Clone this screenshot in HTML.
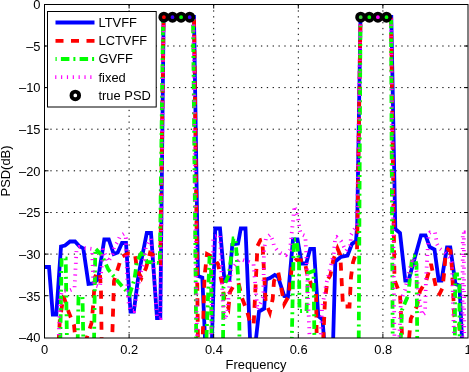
<!DOCTYPE html>
<html><head><meta charset="utf-8"><title>PSD plot</title>
<style>html,body{margin:0;padding:0;background:#fff;overflow:hidden}svg{display:block}text{font-family:"Liberation Sans",sans-serif;font-size:12.9px;fill:#000}</style>
</head><body>
<svg width="469" height="372" viewBox="0 0 469 372">
<rect x="0" y="0" width="469" height="372" fill="#fff"/>
<defs><clipPath id="ax"><rect x="44.5" y="4.5" width="423.5" height="333.5"/></clipPath></defs>
<g stroke="#000" stroke-width="1" stroke-dasharray="1.3 4.55" fill="none">
<line x1="129.1" y1="4.5" x2="129.1" y2="338.0"/>
<line x1="213.7" y1="4.5" x2="213.7" y2="338.0"/>
<line x1="298.3" y1="4.5" x2="298.3" y2="338.0"/>
<line x1="382.9" y1="4.5" x2="382.9" y2="338.0"/>
<line x1="44.5" y1="46.0" x2="468.0" y2="46.0"/>
<line x1="44.5" y1="87.6" x2="468.0" y2="87.6"/>
<line x1="44.5" y1="129.2" x2="468.0" y2="129.2"/>
<line x1="44.5" y1="170.8" x2="468.0" y2="170.8"/>
<line x1="44.5" y1="212.5" x2="468.0" y2="212.5"/>
<line x1="44.5" y1="254.1" x2="468.0" y2="254.1"/>
<line x1="44.5" y1="295.7" x2="468.0" y2="295.7"/>
</g>
<g clip-path="url(#ax)" fill="none" stroke-width="3.8" stroke-linejoin="miter">
<polyline stroke="#0000ff" points="44.5,267.0 49.0,267.0 52.8,314.5 56.3,314.5 61.0,246.5 65.0,245.5 70.0,241.5 75.0,241.5 79.2,246.0 83.3,248.5 88.5,284.0 93.0,283.5 98.0,279.5 104.3,239.5 108.8,239.5 113.7,254.0 117.7,252.5 122.0,243.0 126.0,243.0 130.5,311.5 133.8,311.5 138.5,275.0 146.8,233.0 151.0,233.0 157.0,318.0 160.3,318.0 163.6,17.0 194.0,17.0 198.0,276.0 202.3,277.5 206.2,365.0 211.2,365.0 215.2,228.5 220.0,228.5 224.5,281.0 229.4,280.0 232.3,244.5 238.0,243.5 240.8,228.5 245.5,228.5 250.3,345.0 255.3,345.0 259.0,311.5 264.2,308.5 266.0,279.5 270.0,278.0 274.7,275.0 278.0,277.0 284.3,296.0 288.0,296.5 293.0,239.5 297.5,239.5 301.7,263.5 306.2,263.5 310.2,248.8 314.0,248.8 318.3,316.0 322.5,319.5 324.5,345.0 333.0,345.0 335.3,261.5 341.0,256.8 347.5,255.5 352.0,243.8 356.0,241.2 357.2,225.0 360.5,17.0 391.3,17.0 395.3,229.0 400.0,233.0 405.3,280.5 408.5,280.5 421.0,235.3 425.5,235.3 429.7,247.0 434.5,249.5 438.7,280.5 441.5,280.5 447.0,247.5 450.3,247.5 455.5,284.0 459.5,285.5 462.3,345.0"/>
<polyline stroke="#ff0000" stroke-dasharray="8 7.5" points="45.0,345.0 58.5,345.0 59.8,320.0 63.5,296.0 69.0,313.0 74.0,325.0 76.0,345.0 84.5,345.0 91.5,323.0 93.3,304.0 95.0,277.0 97.5,272.0 100.0,274.0 101.0,292.0 101.7,345.0 112.0,345.0 114.0,281.0 121.5,257.0 128.0,253.5 135.0,254.0 137.0,270.0 141.5,278.0 146.0,268.0 150.0,253.0 155.0,256.0 160.3,262.0 163.6,17.0 194.0,17.0 198.0,345.0 202.5,345.0 204.5,277.0 207.0,254.0 214.0,258.0 218.0,264.0 222.0,283.0 224.5,300.0 228.5,308.0 230.0,292.0 234.0,285.0 238.5,283.0 242.0,298.0 247.0,311.0 250.5,324.0 253.7,324.0 257.5,246.0 260.5,240.0 262.3,239.5 265.7,303.0 269.8,312.5 272.7,299.0 274.0,281.0 278.3,272.5 284.3,304.0 288.5,296.5 292.2,264.0 296.0,260.0 304.5,260.5 307.0,273.0 312.0,286.5 316.0,289.0 316.8,345.0 323.0,345.0 325.0,300.0 327.5,280.0 330.4,275.0 333.3,260.0 337.5,248.5 340.3,255.0 343.0,306.5 349.5,306.5 351.0,277.0 353.0,262.5 357.0,250.0 357.5,225.0 360.5,17.0 391.0,17.0 394.5,280.0 400.0,294.0 402.5,345.0 408.5,345.0 410.8,318.7 417.0,306.0 420.0,291.0 426.0,281.5 431.0,264.0 437.0,292.0 439.5,294.0 442.5,288.0 444.3,271.7 445.5,255.0 448.0,249.5 450.5,251.0 452.0,268.8 454.3,316.0 459.2,324.0 461.0,345.0"/>
<polyline stroke="#00ff00" stroke-dasharray="8.5 4 2 4.2" points="45.0,345.0 60.2,345.0 61.6,258.0 65.7,258.5 67.0,345.0 77.6,345.0 78.5,297.0 82.5,297.0 83.4,345.0 94.0,345.0 95.3,248.5 101.7,255.0 108.3,269.5 117.5,281.0 129.6,294.5 134.5,279.0 137.0,261.0 142.5,251.0 147.0,262.0 159.8,263.0 163.1,17.0 193.0,17.0 196.3,345.0 206.2,345.0 209.5,258.0 211.0,258.0 211.6,345.0 223.0,345.0 223.5,287.0 229.0,274.0 233.5,238.5 235.5,238.5 239.0,290.0 239.5,345.0 291.7,345.0 293.8,239.5 296.5,239.5 299.0,262.0 299.5,311.0 306.5,311.0 308.0,273.0 313.5,271.0 314.5,345.0 358.7,345.0 360.5,17.0 391.0,17.0 392.7,345.0 400.5,345.0 402.0,310.0 408.3,295.0 410.5,272.0 412.3,256.5 414.3,256.5 416.5,264.0 417.3,345.0 454.8,345.0 455.2,274.5 459.3,274.5 459.7,345.0"/>
<polyline stroke="#ff00ff" stroke-width="3.8" stroke-dasharray="1.15 4.7" points="45.0,345.0 58.5,345.0 60.0,300.0 62.0,291.0 69.8,290.5 74.5,288.5 76.5,250.0 79.0,247.0 92.0,249.0 93.5,285.0 100.0,287.0 103.0,249.0 108.0,262.0 112.5,254.5 114.2,247.0 117.5,242.0 120.0,236.2 124.2,233.7 125.8,237.8 128.0,300.0 130.5,311.0 134.0,311.0 140.0,275.0 144.2,260.3 145.8,247.0 150.8,238.7 153.3,260.0 157.0,318.0 160.3,318.0 163.6,17.0 193.5,17.0 197.0,345.0 211.0,345.0 213.3,237.0 220.0,235.0 222.5,299.0 225.0,320.0 227.5,311.0 229.2,288.0 231.0,270.0 240.0,259.0 249.0,262.0 253.5,264.0 257.5,310.0 263.3,297.0 263.5,284.0 264.0,250.0 266.0,238.0 270.3,234.5 273.0,241.0 274.0,246.0 277.0,250.0 281.0,253.0 286.0,255.0 290.0,250.0 291.0,240.0 294.5,206.0 297.8,216.7 299.5,229.0 301.0,234.0 305.3,236.0 306.2,253.0 309.5,336.0 312.0,350.0 320.0,350.0 322.0,308.0 324.0,297.0 326.0,285.0 333.7,254.0 335.3,237.5 336.5,237.0 341.0,241.0 346.0,251.0 350.5,245.0 351.0,235.0 357.0,225.0 360.5,17.0 391.0,17.0 394.5,345.0 399.0,345.0 401.0,300.0 405.0,290.0 410.5,266.0 413.0,258.0 416.7,272.0 418.0,290.0 420.0,305.0 422.0,315.0 425.0,313.0 426.0,280.0 428.5,234.0 430.0,232.5 435.0,232.5 437.0,244.0 439.0,248.0 443.0,251.0 450.5,258.0 452.0,263.0 453.5,322.0 454.5,345.0 462.3,345.0 462.8,232.5 463.8,232.5 464.3,345.0"/>
</g>
<g stroke="#000" stroke-width="3.6">
<circle cx="163.9" cy="17.2" r="3.7" fill="#ff0000"/>
<circle cx="172.5" cy="17.2" r="3.7" fill="#3a00ff"/>
<circle cx="181.1" cy="17.2" r="3.7" fill="#00ff00"/>
<circle cx="189.7" cy="17.2" r="3.7" fill="#3a00ff"/>
<circle cx="360.7" cy="17.2" r="3.7" fill="#40d040"/>
<circle cx="369.3" cy="17.2" r="3.7" fill="#00ff00"/>
<circle cx="377.9" cy="17.2" r="3.7" fill="#ff00ff"/>
<circle cx="386.5" cy="17.2" r="3.7" fill="#00ff00"/>
</g>
<rect x="44.5" y="4.5" width="423.5" height="333.5" fill="none" stroke="#000" stroke-width="1"/>
<g stroke="#000" stroke-width="1">
<line x1="129.1" y1="338.0" x2="129.1" y2="334.0"/>
<line x1="129.1" y1="4.5" x2="129.1" y2="8.5"/>
<line x1="213.7" y1="338.0" x2="213.7" y2="334.0"/>
<line x1="213.7" y1="4.5" x2="213.7" y2="8.5"/>
<line x1="298.3" y1="338.0" x2="298.3" y2="334.0"/>
<line x1="298.3" y1="4.5" x2="298.3" y2="8.5"/>
<line x1="382.9" y1="338.0" x2="382.9" y2="334.0"/>
<line x1="382.9" y1="4.5" x2="382.9" y2="8.5"/>
<line x1="44.5" y1="46.0" x2="48.5" y2="46.0"/>
<line x1="468.0" y1="46.0" x2="464.0" y2="46.0"/>
<line x1="44.5" y1="87.6" x2="48.5" y2="87.6"/>
<line x1="468.0" y1="87.6" x2="464.0" y2="87.6"/>
<line x1="44.5" y1="129.2" x2="48.5" y2="129.2"/>
<line x1="468.0" y1="129.2" x2="464.0" y2="129.2"/>
<line x1="44.5" y1="170.8" x2="48.5" y2="170.8"/>
<line x1="468.0" y1="170.8" x2="464.0" y2="170.8"/>
<line x1="44.5" y1="212.5" x2="48.5" y2="212.5"/>
<line x1="468.0" y1="212.5" x2="464.0" y2="212.5"/>
<line x1="44.5" y1="254.1" x2="48.5" y2="254.1"/>
<line x1="468.0" y1="254.1" x2="464.0" y2="254.1"/>
<line x1="44.5" y1="295.7" x2="48.5" y2="295.7"/>
<line x1="468.0" y1="295.7" x2="464.0" y2="295.7"/>
</g>
<g text-anchor="end">
<text x="40.5" y="8.8">0</text>
<text x="40.5" y="50.5">–5</text>
<text x="40.5" y="92.2">–10</text>
<text x="40.5" y="133.9">–15</text>
<text x="40.5" y="175.6">–20</text>
<text x="40.5" y="217.2">–25</text>
<text x="40.5" y="258.9">–30</text>
<text x="40.5" y="300.6">–35</text>
<text x="40.5" y="342.3">–40</text>
</g>
<g text-anchor="middle">
<text x="44.5" y="353.5">0</text>
<text x="129.2" y="353.5">0.2</text>
<text x="213.9" y="353.5">0.4</text>
<text x="298.6" y="353.5">0.6</text>
<text x="383.3" y="353.5">0.8</text>
<text x="468.0" y="353.5">1</text>
<text x="256" y="368.5">Frequency</text>
<text transform="translate(10,171) rotate(-90)">PSD(dB)</text>
</g>
<rect x="47.5" y="11.5" width="108.7" height="95.5" fill="#fff" stroke="#000" stroke-width="1"/>
<g fill="none" stroke-width="3.8">
<line x1="55.5" x2="94.5" y1="22.5" y2="22.5" stroke="#0000ff"/>
<line x1="55.5" x2="94.5" y1="40.8" y2="40.8" stroke="#ff0000" stroke-dasharray="8 7.5"/>
<line x1="55.5" x2="94.5" y1="59.0" y2="59.0" stroke="#00ff00" stroke-dasharray="8.5 4 2 4.2" stroke-dashoffset="13.3"/>
<line x1="55.2" x2="94.5" y1="77.2" y2="77.2" stroke="#ff00ff" stroke-width="3.8" stroke-dasharray="1.15 4.7"/>
</g>
<circle cx="75.3" cy="95.4" r="3.8" fill="#fff" stroke="#000" stroke-width="3.9"/>
<text x="98.5" y="26.9">LTVFF</text>
<text x="98.5" y="45.2">LCTVFF</text>
<text x="98.5" y="63.4">GVFF</text>
<text x="98.5" y="81.6">fixed</text>
<text x="98.5" y="99.8">true PSD</text>
</svg></body></html>
